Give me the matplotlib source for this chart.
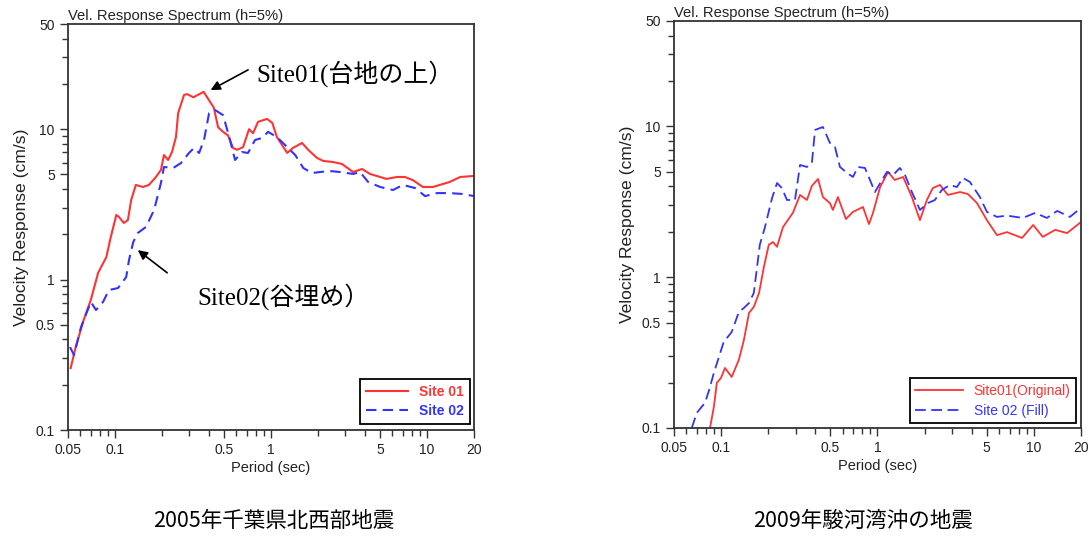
import matplotlib
matplotlib.use('Agg')
import matplotlib.pyplot as plt
import numpy as np

plt.rcParams['font.family'] = ['Liberation Sans', 'Noto Sans CJK JP']

#%% velocity response spectra (h=5%), period in sec, response in cm/s

# 2005 Chiba NW earthquake
chiba_site01_T = [0.052, 0.056, 0.063, 0.070, 0.078, 0.088, 0.094, 0.102, 0.106, 0.114,
                  0.121, 0.127, 0.136, 0.151, 0.165, 0.183, 0.197, 0.206, 0.219, 0.232,
                  0.246, 0.254, 0.277, 0.290, 0.318, 0.37, 0.43, 0.458, 0.493, 0.53,
                  0.571, 0.606, 0.662, 0.723, 0.767, 0.826, 0.944, 1.02, 1.09, 1.27,
                  1.38, 1.58, 1.73, 1.97, 2.16, 2.50, 2.85, 3.36, 3.83, 4.31,
                  5.5, 6.4, 7.2, 8.1, 9.4, 10.9, 14.0, 16.3, 20.0]
chiba_site01_V = [0.258, 0.356, 0.539, 0.732, 1.11, 1.41, 1.92, 2.69, 2.61, 2.38,
                  2.49, 3.38, 4.26, 4.13, 4.26, 4.81, 5.36, 6.73, 6.24, 7.05,
                  8.87, 12.8, 16.9, 17.1, 16.3, 17.7, 13.9, 10.3, 9.6, 9.1,
                  7.5, 7.3, 7.6, 10.0, 9.4, 11.2, 11.7, 11.0, 8.87, 6.95,
                  7.5, 8.1, 7.3, 6.44, 6.15, 6.05, 5.87, 5.19, 5.44, 5.04,
                  4.67, 4.81, 4.81, 4.59, 4.13, 4.13, 4.46, 4.81, 4.89]

chiba_site02_T = [0.0515, 0.0546, 0.0606, 0.070, 0.0756, 0.0838, 0.0916, 0.1046, 0.118, 0.123,
                  0.131, 0.140, 0.158, 0.178, 0.197, 0.206, 0.236, 0.265, 0.298, 0.321,
                  0.346, 0.372, 0.401, 0.438, 0.493, 0.546, 0.588, 0.652, 0.712, 0.79,
                  0.877, 0.957, 1.09, 1.27, 1.43, 1.61, 1.83, 2.06, 2.39, 2.77,
                  3.36, 3.72, 4.19, 5.0, 6.05, 7.0, 8.4, 9.7, 11.6, 14.0,
                  16.8, 20.0]
chiba_site02_V = [0.356, 0.315, 0.484, 0.71, 0.628, 0.71, 0.853, 0.879, 1.04, 1.35,
                  1.78, 2.04, 2.24, 2.90, 4.39, 5.61, 5.52, 5.96, 6.95, 7.5,
                  6.95, 8.48, 12.8, 13.4, 12.4, 8.48, 6.24, 7.05, 6.95, 8.48,
                  8.74, 9.6, 8.87, 7.6, 6.73, 5.52, 5.11, 5.19, 5.27, 5.19,
                  5.04, 5.19, 4.46, 4.13, 3.94, 4.26, 4.06, 3.59, 3.76, 3.76,
                  3.71, 3.59]

# 2009 Suruga Bay earthquake
suruga_site01_T = [0.085, 0.090, 0.094, 0.100, 0.106, 0.117, 0.130, 0.140, 0.151, 0.162,
                   0.175, 0.188, 0.202, 0.215, 0.228, 0.249, 0.288, 0.320, 0.354, 0.381,
                   0.417, 0.448, 0.497, 0.519, 0.559, 0.629, 0.697, 0.808, 0.883, 0.937,
                   1.04, 1.17, 1.29, 1.46, 1.66, 1.87, 2.07, 2.26, 2.51, 2.82,
                   3.37, 3.79, 4.33, 5.01, 5.81, 6.73, 8.4, 9.9, 11.4, 13.7,
                   16.3, 20.0]
suruga_site01_V = [0.1, 0.138, 0.199, 0.215, 0.250, 0.218, 0.283, 0.383, 0.579, 0.635,
                   0.786, 1.17, 1.64, 1.71, 1.59, 2.15, 2.67, 3.51, 3.25, 4.03,
                   4.48, 3.40, 3.10, 2.79, 3.40, 2.43, 2.71, 2.92, 2.25, 2.67,
                   3.96, 4.99, 4.41, 4.62, 3.40, 2.39, 3.25, 3.90, 4.09, 3.51,
                   3.67, 3.56, 3.10, 2.39, 1.90, 1.99, 1.82, 2.22, 1.85, 2.06,
                   1.96, 2.32]

suruga_site02_T = [0.065, 0.070, 0.079, 0.084, 0.090, 0.097, 0.104, 0.109, 0.117, 0.130,
                   0.140, 0.151, 0.162, 0.170, 0.177, 0.191, 0.212, 0.228, 0.245, 0.264,
                   0.297, 0.320, 0.354, 0.381, 0.399, 0.448, 0.497, 0.535, 0.576, 0.639,
                   0.697, 0.751, 0.832, 0.896, 0.964, 1.07, 1.15, 1.26, 1.39, 1.50,
                   1.66, 1.87, 2.10, 2.33, 2.58, 2.91, 3.22, 3.52, 3.90, 4.52,
                   5.01, 5.81, 6.73, 8.5, 10.2, 12.1, 14.1, 17.0, 20.0]
suruga_site02_V = [0.1, 0.126, 0.147, 0.179, 0.232, 0.296, 0.372, 0.395, 0.433, 0.588,
                   0.625, 0.674, 0.786, 1.17, 1.64, 2.15, 3.35, 4.21, 3.90, 3.25,
                   3.25, 5.55, 5.38, 5.72, 9.47, 9.91, 7.76, 7.30, 5.38, 4.91,
                   4.62, 5.38, 5.30, 4.41, 3.67, 4.41, 4.99, 4.76, 5.30, 4.76,
                   3.67, 2.79, 3.10, 3.25, 3.79, 4.09, 3.96, 4.55, 4.28, 3.40,
                   2.71, 2.51, 2.56, 2.47, 2.67, 2.47, 2.75, 2.51, 2.88]

x_major = [0.05, 0.1, 0.5, 1, 5, 10, 20]
x_major_labels = ['0.05', '0.1', '0.5', '1', '5', '10', '20']
y_major = [0.1, 0.5, 1, 5, 10, 50]
y_major_labels = ['0.1', '0.5', '1', '5', '10', '50']

red = '#ff3333'
blue = '#3333ff'
frame = '#333333'


def spectrum_axes(ax):
    ax.set_xscale('log')
    ax.set_yscale('log')
    ax.set_xlim(0.05, 20)
    ax.set_ylim(0.1, 50)
    ax.set_xticks(x_major, x_major_labels)
    ax.set_yticks(y_major, y_major_labels)
    ax.set_xticks([m * d for d in (0.01, 0.1, 1) for m in range(2, 10)
                   if 0.05 < m * d < 20 and m != 5], minor=True)
    ax.set_yticks([m * d for d in (0.1, 1, 10) for m in range(2, 10)
                   if m * d < 50 and m != 5], minor=True)
    ax.set_xticklabels([], minor=True)
    ax.set_yticklabels([], minor=True)
    ax.tick_params(which='both', direction='out', color=frame, labelsize=10,
                   labelcolor='#222222', top=False, right=False)
    ax.tick_params(which='major', length=6, width=1)
    ax.tick_params(which='minor', length=4, width=1)
    for s in ax.spines.values():
        s.set_color(frame)
        s.set_linewidth(1.3)
    ax.set_title('Vel. Response Spectrum (h=5%)', loc='left', fontsize=10.6,
                 color='#222222', pad=3)
    ax.set_xlabel('Period (sec)', fontsize=10.5, color='#222222', labelpad=3)
    ax.set_ylabel('Velocity Response (cm/s)', fontsize=12.6, color='#222222', labelpad=5)


fig = plt.figure(figsize=(10.9, 5.38), dpi=100)

# left: 2005
ax1 = fig.add_axes([0.0624, 0.2007, 0.3725, 0.7546])
ax1.plot(chiba_site01_T, chiba_site01_V, color=red, lw=1.5, label='Site 01')
ax1.plot(chiba_site02_T, chiba_site02_V, color=blue, lw=1.5, ls=(0, (5, 3)), label='Site 02')
spectrum_axes(ax1)
leg1 = ax1.legend(loc='lower right', bbox_to_anchor=(0.99, 0.015), borderaxespad=0,
                  fancybox=False, edgecolor='black', framealpha=1,
                  handlelength=3.0, labelspacing=0.35, borderpad=0.45,
                  prop={'weight': 'bold', 'size': 10})
leg1.get_frame().set_linewidth(1.3)
for t, c in zip(leg1.get_texts(), [red, blue]):
    t.set_color(c)

jp_serif = ['Liberation Serif', 'Noto Sans CJK JP']
ax1.text(0.81, 23.6, 'Site01(台地の上）', family=jp_serif, fontsize=18, va='center', ha='left')
ax1.annotate('', xy=(0.41, 18.2), xytext=(0.713, 24.8),
             arrowprops=dict(arrowstyle='-|>', color='black', lw=1.2, mutation_scale=14,
                             shrinkA=0, shrinkB=0))
ax1.text(0.336, 0.766, 'Site02(谷埋め）', family=jp_serif, fontsize=18, va='center', ha='left')
ax1.annotate('', xy=(0.140, 1.57), xytext=(0.216, 1.11),
             arrowprops=dict(arrowstyle='-|>', color='black', lw=1.2, mutation_scale=14,
                             shrinkA=0, shrinkB=0))

# right: 2009
ax2 = fig.add_axes([0.6183, 0.2045, 0.3734, 0.7565])
ax2.plot(suruga_site01_T, suruga_site01_V, color=red, lw=1.3, label='Site01(Original)')
ax2.plot(suruga_site02_T, suruga_site02_V, color=blue, lw=1.3, ls=(0, (6, 3)), label='Site 02 (Fill)')
spectrum_axes(ax2)
leg2 = ax2.legend(loc='lower right', bbox_to_anchor=(0.988, 0.012), borderaxespad=0,
                  fancybox=False, edgecolor='black', framealpha=1, fontsize=10,
                  handlelength=3.4, labelspacing=0.4)
leg2.get_frame().set_linewidth(1.3)
for t, c in zip(leg2.get_texts(), [red, blue]):
    t.set_color(c)

fig.text(274 / 1090, 1 - 521 / 538, '2005年千葉県北西部地震', fontsize=15.5,
         ha='center', va='center', family=['Noto Sans CJK JP'])
fig.text(863 / 1090, 1 - 521 / 538, '2009年駿河湾沖の地震', fontsize=15.5,
         ha='center', va='center', family=['Noto Sans CJK JP'])

fig.savefig('out.png', dpi=100)
